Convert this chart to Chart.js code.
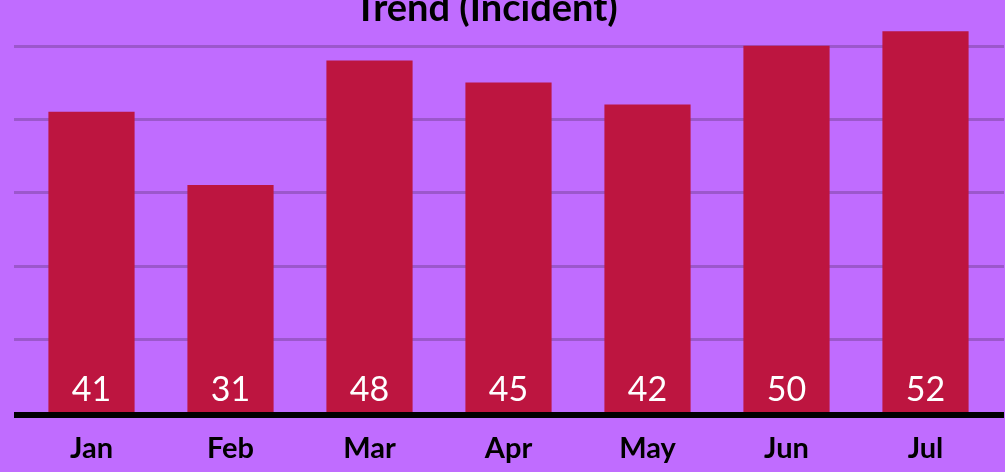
<!DOCTYPE html>
<html>
<head>
<meta charset="utf-8">
<script src="https://cdn.jsdelivr.net/npm/chart.js@4"></script>
<style>
  html, body { margin: 0; padding: 0; background: #c06cff; overflow: hidden; }
  #wrap { width: 1005px; height: 472px; }
</style>
</head>
<body>
<div id="wrap"><canvas id="trend-chart"></canvas></div>
<script>
var months = ["Jan", "Feb", "Mar", "Apr", "May", "Jun", "Jul"];
var incidents = [41, 31, 48, 45, 42, 50, 52];
var gridTicks = [0, 10, 20, 30, 40, 50];

// horizontal grid lines, a bit wider than the plot area
var wideGrid = {
  id: 'wideGrid',
  beforeDatasetsDraw: function(chart) {
    var ctx = chart.ctx, area = chart.chartArea, y = chart.scales.y;
    ctx.save();
    ctx.strokeStyle = '#9c57cc';
    ctx.lineWidth = 3;
    gridTicks.forEach(function(v) {
      if (v === 0) return;
      var py = Math.round(y.getPixelForValue(v)) + 0.5;
      ctx.beginPath();
      ctx.moveTo(area.left - 8, py);
      ctx.lineTo(area.right + 9, py);
      ctx.stroke();
    });
    ctx.restore();
  },
  // thick black base line just under the bars
  afterDatasetsDraw: function(chart) {
    var ctx = chart.ctx, area = chart.chartArea;
    var base = Math.round(chart.scales.y.getPixelForValue(0));
    ctx.save();
    ctx.fillStyle = '#000';
    ctx.fillRect(area.left - 8, base, area.right - area.left + 17, 6);
    ctx.restore();
  }
};

// value labels at the foot of each bar
var barValues = {
  id: 'barValues',
  afterDatasetsDraw: function(chart) {
    var ctx = chart.ctx, base = chart.scales.y.getPixelForValue(0);
    var meta = chart.getDatasetMeta(0);
    ctx.save();
    ctx.fillStyle = '#ffffff';
    ctx.font = 'normal 34px Lato';
    ctx.textAlign = 'center';
    ctx.textBaseline = 'alphabetic';
    meta.data.forEach(function(bar, i) {
      ctx.fillText(String(incidents[i]), bar.x, base - 11);
    });
    ctx.restore();
  }
};

// title sits a little left of the page centre
var titleShift = {
  id: 'titleShift',
  afterLayout: function(chart) {
    if (chart.titleBlock) {
      chart.titleBlock.left = 0;
      chart.titleBlock.right = 972;
    }
  }
};

new Chart(document.getElementById("trend-chart"), {
  type: 'bar',
  data: {
    labels: months,
    datasets: [{
      label: "Incident",
      data: incidents,
      backgroundColor: "#bd1540",
      borderWidth: 0,
      barPercentage: 0.62,
      categoryPercentage: 1
    }]
  },
  options: {
    responsive: true,
    maintainAspectRatio: false,
    animation: false,
    layout: { padding: { left: 22, right: 10, bottom: -13 } },
    plugins: {
      legend: { display: false },
      tooltip: { enabled: false },
      title: {
        display: true,
        text: 'Trend (Incident)',
        color: '#000',
        font: { family: 'Lato', size: 38, weight: 'bold' },
        padding: { top: -14.2, bottom: -5.4 }
      }
    },
    scales: {
      x: {
        grid: { display: false, drawTicks: false },
        border: { display: false },
        ticks: {
          color: '#000',
          padding: 19,
          font: { family: 'Lato', size: 29, weight: 'bold' }
        }
      },
      y: {
        display: false,
        min: 0,
        max: 52.7
      }
    }
  },
  plugins: [wideGrid, barValues, titleShift]
});
</script>
</body>
</html>
